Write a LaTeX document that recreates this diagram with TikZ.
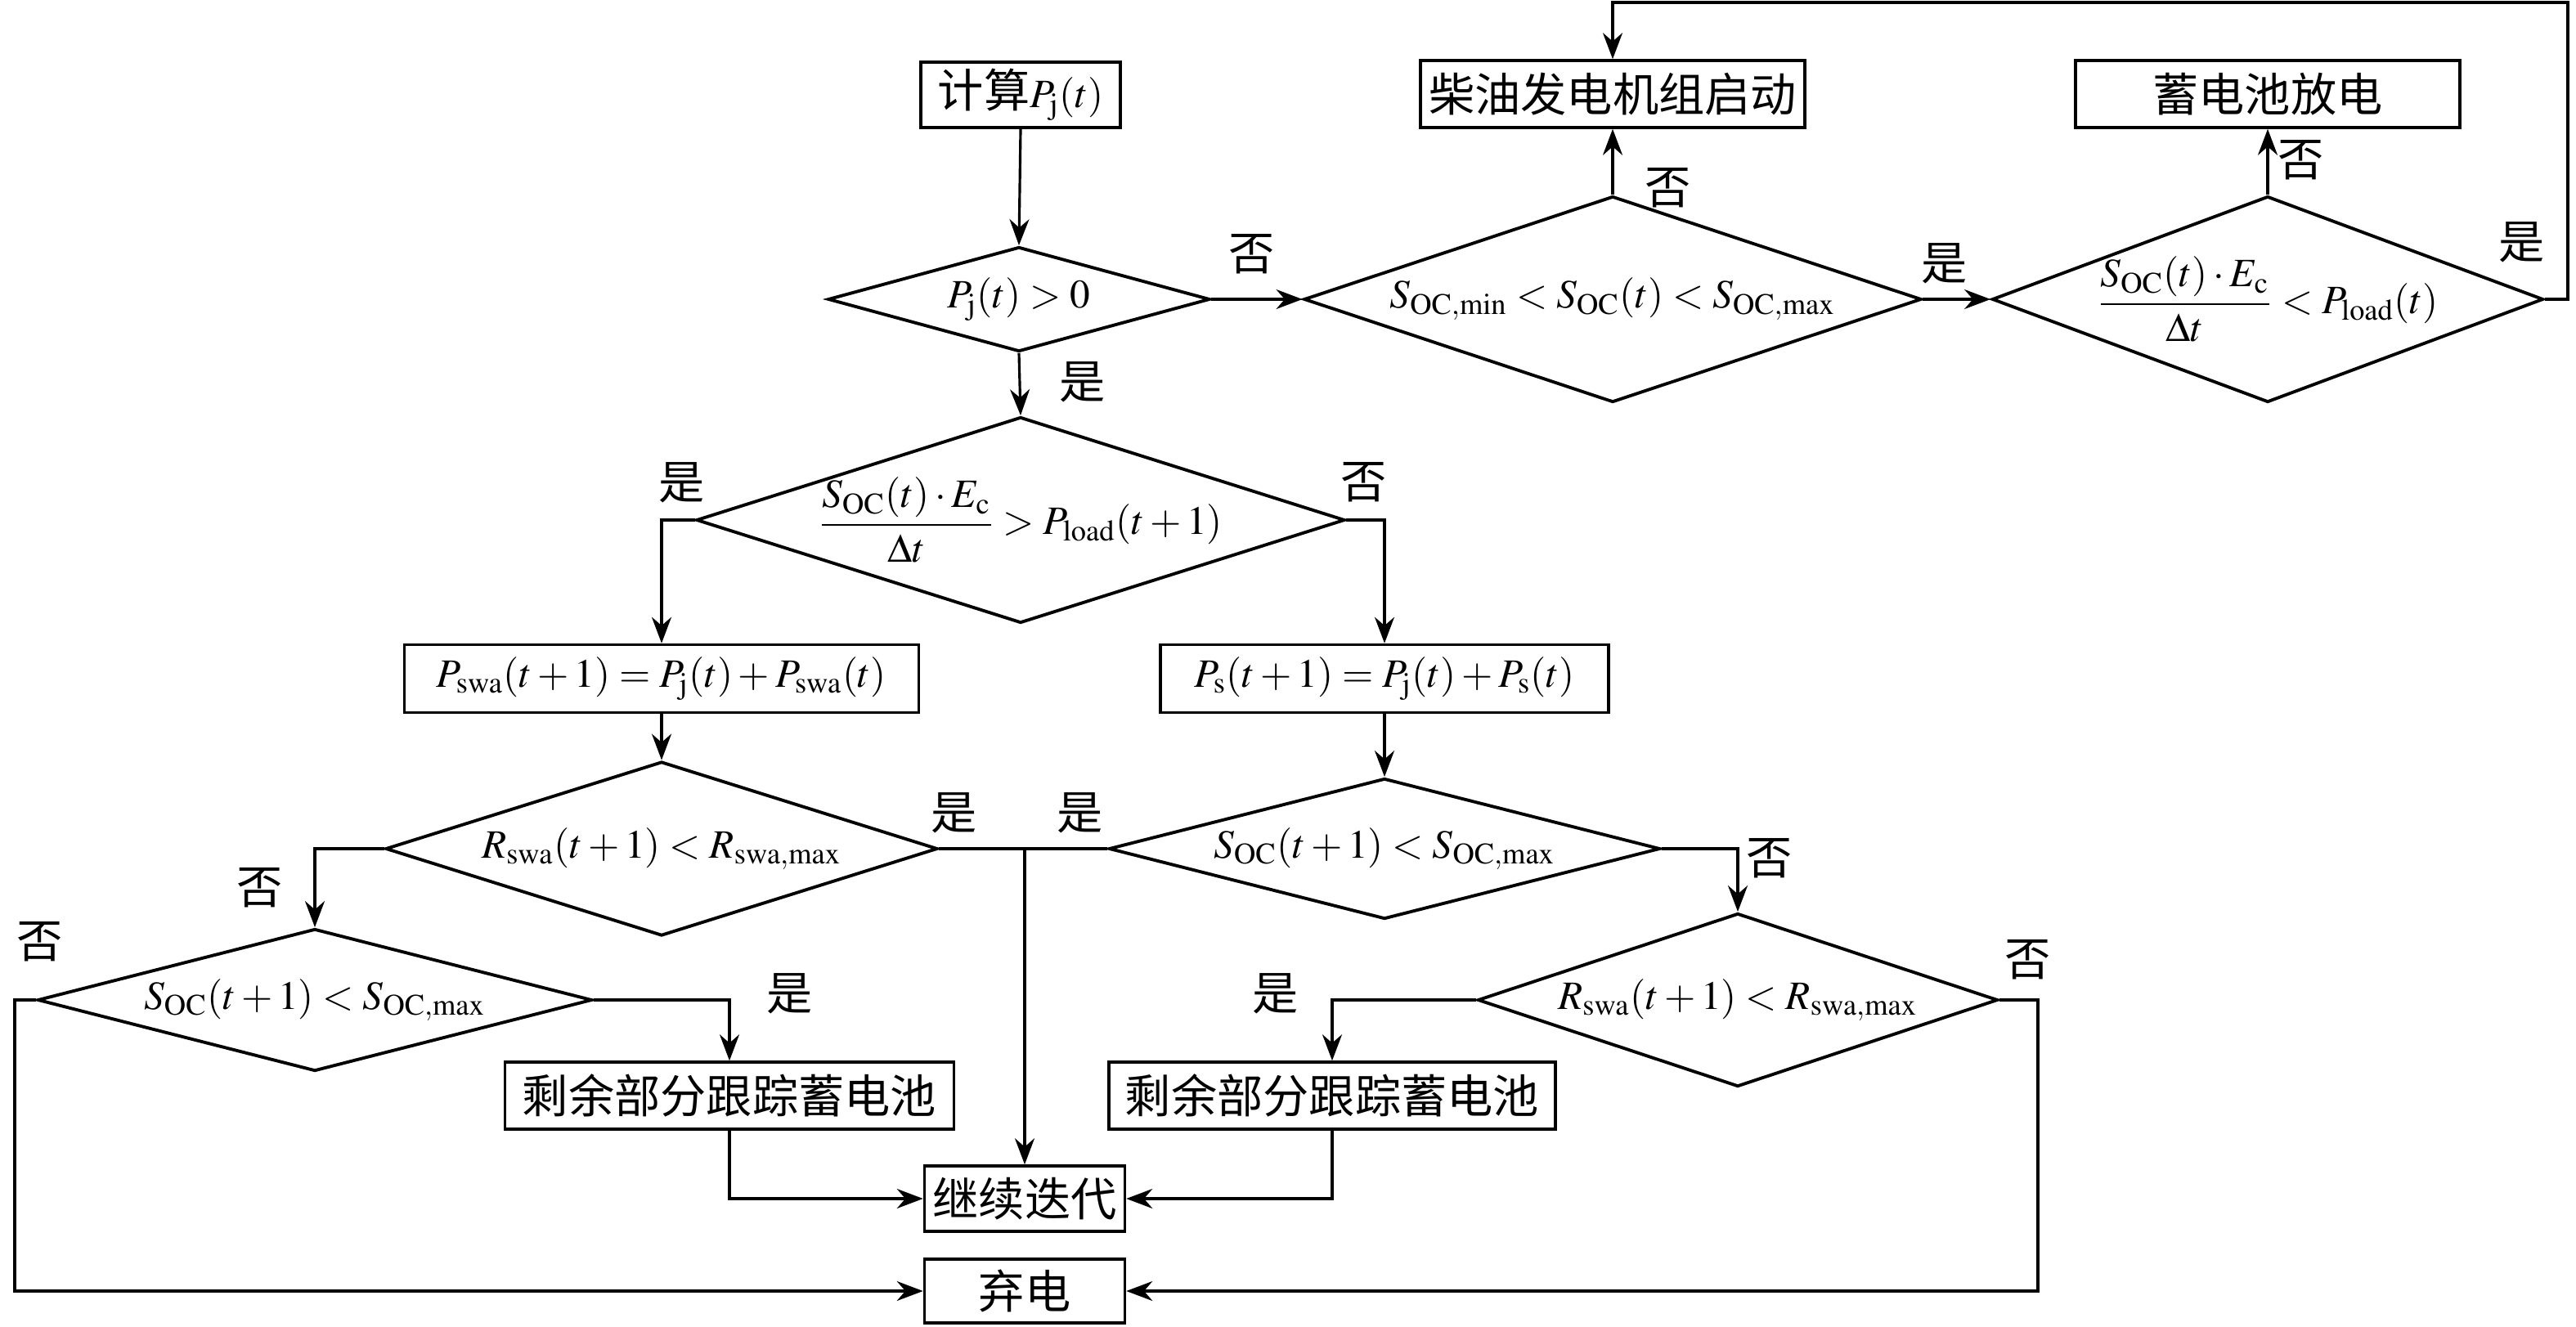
\documentclass[tikz,border=0pt]{standalone}
\usepackage{mathptmx}
\usepackage{fontspec}
\setmainfont{Liberation Serif}
\newfontfamily\cjk{Noto Sans CJK SC}
\usetikzlibrary{arrows.meta,shapes.geometric}
\newcommand\fs{\fontsize{16}{19}\selectfont}
\newcommand\fm{\fontsize{14}{17}\selectfont}
\newcommand\zh[1]{{\cjk #1}}
\newcommand\rmsub[1]{_{\mathrm{#1}}}

\begin{document}
\begin{tikzpicture}[font=\fs,line width=.9pt,>={Stealth[length=3.2mm,width=2.4mm]},
  box/.style={draw,line width=1pt,inner sep=0pt,minimum height=.8cm},
  decision/.style 2 args={draw,diamond,line width=1.1pt,inner sep=0pt,minimum width=#1cm,minimum height=#2cm}]
\useasboundingbox (0,0) rectangle (31.5,-16.22);
% boxes
\node[box,minimum width=2.44cm] (calc) at (12.48,-1.16) {\zh{计算}{\fm$P\rmsub{j}(t)$}};
\node[box,minimum width=4.70cm,minimum height=.82cm] (diesel) at (19.72,-1.15) {\zh{柴油发电机组启动}};
\node[box,minimum width=4.70cm,minimum height=.82cm] (dis) at (27.73,-1.15) {\zh{蓄电池放电}};
\node[box,minimum width=6.29cm,minimum height=.83cm] (pswa) at (8.09,-8.30) {\fm$P\rmsub{swa}(t+1)=P\rmsub{j}(t)+P\rmsub{swa}(t)$};
\node[box,minimum width=5.48cm,minimum height=.83cm] (ps) at (16.93,-8.30) {\fm$P\rmsub{s}(t+1)=P\rmsub{j}(t)+P\rmsub{s}(t)$};
\node[box,minimum width=5.49cm,minimum height=.82cm] (rem1) at (8.92,-13.40) {\zh{剩余部分跟踪蓄电池}};
\node[box,minimum width=5.46cm,minimum height=.82cm] (rem2) at (16.29,-13.40) {\zh{剩余部分跟踪蓄电池}};
\node[box,minimum width=2.45cm] (cont) at (12.53,-14.66) {\zh{继续迭代}};
\node[box,minimum width=2.45cm,minimum height=.78cm] (ab) at (12.53,-15.79) {\zh{弃电}};
% decisions
\node[decision={4.67}{1.28},label=center:{\fm$P\rmsub{j}(t)>0$}] (d1) at (12.46,-3.66) {};
\node[decision={7.55}{2.52},label=center:{\fm$S\rmsub{OC,min}<S\rmsub{OC}(t)<S\rmsub{OC,max}$}] (d2) at (19.72,-3.66) {};
\node[decision={6.74}{2.52},label=center:{\fm$\displaystyle\frac{S\rmsub{OC}(t)\cdot E\rmsub{c}}{\Delta t}<P\rmsub{load}(t)$}] (d3) at (27.73,-3.66) {};
\node[decision={7.93}{2.52},label=center:{\fm$\displaystyle\frac{S\rmsub{OC}(t)\cdot E\rmsub{c}}{\Delta t}>P\rmsub{load}(t+1)$}] (d4) at (12.48,-6.36) {};
\node[decision={6.75}{2.13},label=center:{\fm$R\rmsub{swa}(t+1)<R\rmsub{swa,max}$}] (d5) at (8.09,-10.38) {};
\node[decision={6.74}{1.72},label=center:{\fm$S\rmsub{OC}(t+1)<S\rmsub{OC,max}$}] (d6) at (16.93,-10.38) {};
\node[decision={6.78}{1.74},label=center:{\fm$S\rmsub{OC}(t+1)<S\rmsub{OC,max}$}] (d7) at (3.85,-12.23) {};
\node[decision={6.36}{2.12},label=center:{\fm$R\rmsub{swa}(t+1)<R\rmsub{swa,max}$}] (d8) at (21.25,-12.23) {};
% yes / no
\node (n1) at (15.31,-3.11) {\zh{否}};
\node (y1) at (13.24,-4.67) {\zh{是}};
\node (n2) at (20.40,-2.30) {\zh{否}};
\node (y2) at (23.78,-3.22) {\zh{是}};
\node (n3) at (28.14,-1.96) {\zh{否}};
\node (y3) at (30.84,-2.96) {\zh{是}};
\node (y4) at (8.34,-5.90) {\zh{是}};
\node (n4) at (16.68,-5.90) {\zh{否}};
\node (y5) at (11.67,-9.94) {\zh{是}};
\node (y6) at (13.21,-9.94) {\zh{是}};
\node (n5) at (3.18,-10.86) {\zh{否}};
\node (n6) at (21.64,-10.50) {\zh{否}};
\node (n7) at (0.49,-11.52) {\zh{否}};
\node (y7) at (9.66,-12.15) {\zh{是}};
\node (y8) at (15.60,-12.15) {\zh{是}};
\node (n8) at (24.80,-11.74) {\zh{否}};
% connectors
\coordinate (loop) at (31.40,-0.03);
\coordinate (jn) at (12.53,-10.38);
\draw[->] (calc.south) -- (d1.north);
\draw[->] (d1.east) -- (d2.west);
\draw[->] (d2.north) -- (diesel.south);
\draw[->] (d2.east) -- (d3.west);
\draw[->] (d3.north) -- (dis.south);
\draw[->] (d3.east) -| (loop) -| (diesel.north);
\draw[->] (d1.south) -- (d4.north);
\draw[->] (d4.west) -| (pswa.north);
\draw[->] (d4.east) -| (ps.north);
\draw[->] (pswa.south) -- (d5.north);
\draw[->] (ps.south) -- (d6.north);
\draw (d5.east) -- (d6.west);
\draw[->] (jn) -- (cont.north);
\draw[->] (d5.west) -| (d7.north);
\draw[->] (d6.east) -| (d8.north);
\draw[->] (d7.east) -| (rem1.north);
\draw[->] (d8.west) -| (rem2.north);
\draw[->] (rem1.south) |- (cont.west);
\draw[->] (rem2.south) |- (cont.east);
\draw[->] (d7.west) -- ++(-.26,0) |- (ab.west);
\draw[->] (d8.east) -- ++(.47,0) |- (ab.east);
\end{tikzpicture}
\end{document}
